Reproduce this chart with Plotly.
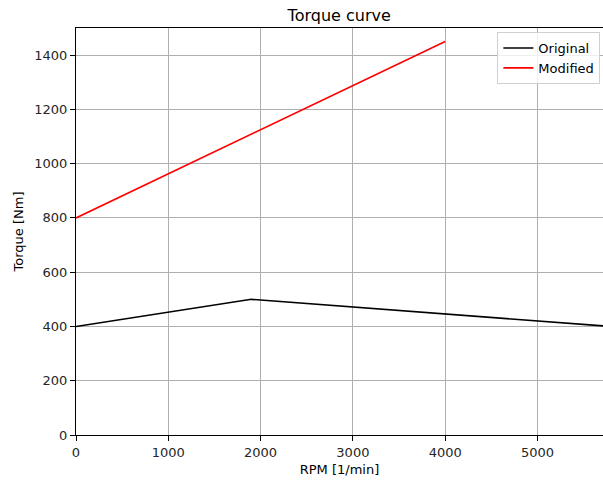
import plotly.graph_objects as go

orig_rpm = [0, 1900, 5800]
orig_torque = [400, 500, 400]
mod_rpm = [0, 4000]
mod_torque = [800, 1450]

x_ticks = [0, 1000, 2000, 3000, 4000, 5000]
y_ticks = [0, 200, 400, 600, 800, 1000, 1200, 1400]

font = "DejaVu Sans"
fig = go.Figure()
fig.add_trace(go.Scatter(x=orig_rpm, y=orig_torque, mode="lines", name="Original",
                         line=dict(color="black", width=1.6)))
fig.add_trace(go.Scatter(x=mod_rpm, y=mod_torque, mode="lines", name="Modified",
                         line=dict(color="red", width=1.6)))

fig.update_layout(
    width=603, height=480,
    margin=dict(l=76, r=0, t=28, b=45),
    paper_bgcolor="white", plot_bgcolor="white",
    font=dict(family=font, size=13, color="#262626"),
    title=dict(text="Torque curve", x=0.5625, xanchor="center", y=1 - 15/480, yanchor="middle",
               font=dict(size=16, color="black")),
    showlegend=True,
    legend=dict(x=0.995, xanchor="right", y=0.99, yanchor="top",
                bgcolor="rgba(255,255,255,0.8)", bordercolor="#d0d0d0", borderwidth=1,
                font=dict(size=13, color="black"), tracegroupgap=0),
    xaxis=dict(range=[0, 5710], tickvals=x_ticks, showgrid=True, gridcolor="#b0b0b0", gridwidth=1,
               showline=True, linecolor="black", linewidth=1, mirror=True,
               ticks="outside", ticklen=5, tickcolor="black", zeroline=False,
               title=dict(text="RPM [1/min]", standoff=6, font=dict(size=13, color="black"))),
    yaxis=dict(range=[0, 1500], tickvals=y_ticks, showgrid=True, gridcolor="#b0b0b0", gridwidth=1,
               showline=True, linecolor="black", linewidth=1, mirror=False,
               ticks="outside", ticklen=5, tickcolor="black", zeroline=False,
               title=dict(text="Torque [Nm]", standoff=7, font=dict(size=13, color="black"))),
)
fig.write_html("out.html")
